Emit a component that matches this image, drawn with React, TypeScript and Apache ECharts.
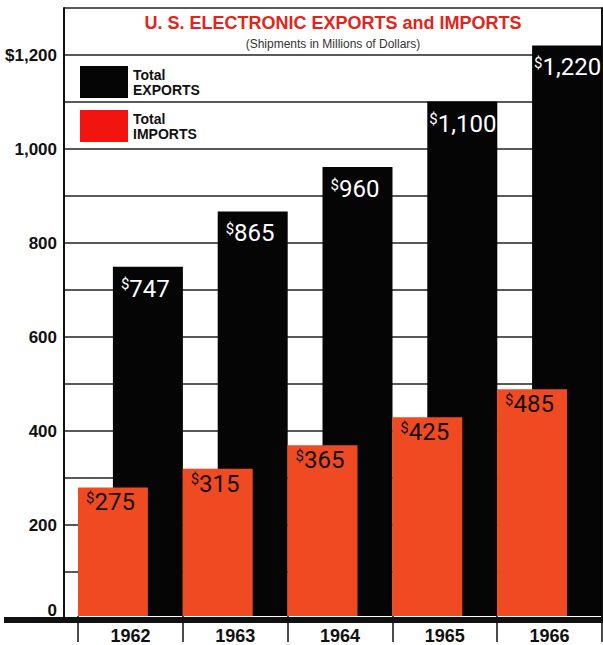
import React, { useEffect, useRef } from "react";
import * as echarts from "echarts";

const years = ["1962", "1963", "1964", "1965", "1966"];
const exportsM = [747, 865, 960, 1100, 1220];
const importsM = [275, 315, 365, 425, 485];
const yTickLabels = ["0", "200", "400", "600", "800", "1,000", "$1,200"];

const titleText = "U. S. ELECTRONIC EXPORTS and IMPORTS";
const subText = "(Shipments in Millions of Dollars)";
const exportName = "Total\nEXPORTS";
const importName = "Total\nIMPORTS";

const SANS = "'Liberation Sans', Arial, sans-serif";
const VAL = "Roboto, 'Liberation Sans', sans-serif";

const fmt = (v: number) => v.toLocaleString("en-US");

export default function App() {
  const ref = useRef<HTMLDivElement>(null);
  useEffect(() => {
    if (!ref.current) return;
    const chart = echarts.init(ref.current, undefined, { renderer: "svg" });
    const valueRich = (color: string) => ({
      d: { fontSize: 15, color, verticalAlign: "top", lineHeight: 28, fontFamily: VAL },
      v: { fontSize: 24, color, verticalAlign: "top", lineHeight: 28, fontFamily: VAL },
    });
    const labeled = (vals: number[], dy: number) =>
      vals.map((v) => ({ value: v, label: { offset: [v >= 1000 ? 2 : 8, dy] } }));
    chart.setOption({
      animation: false,
      backgroundColor: "#fff",
      title: {
        text: titleText,
        subtext: subText,
        left: 333,
        textAlign: "center",
        top: 14,
        padding: 0,
        itemGap: 6,
        textStyle: { color: "#e5231b", fontSize: 18, fontWeight: "bold", fontFamily: SANS },
        subtextStyle: { color: "#333", fontSize: 12, fontFamily: SANS },
      },
      legend: {
        orient: "vertical",
        left: 80,
        top: 66,
        padding: 0,
        itemWidth: 48,
        itemHeight: 32,
        itemGap: 12,
        icon: "rect",
        selectedMode: false,
        textStyle: { fontSize: 14, fontWeight: "bold", color: "#111", lineHeight: 15, fontFamily: SANS },
        data: [
          { name: exportName, itemStyle: { color: "#050505" } },
          { name: importName, itemStyle: { color: "#f2140f" } },
        ],
      },
      grid: [
        { left: 64, right: 1, top: 8, bottom: 26 },
        { left: 78, right: 1, top: 8, bottom: 26 },
      ],
      xAxis: [
        { gridIndex: 0, type: "value", min: 0, max: 1, show: false },
        {
          gridIndex: 1,
          type: "category",
          data: years,
          axisLine: { show: false },
          axisTick: { show: true, length: 26, lineStyle: { color: "#111", width: 1.5 } },
          axisLabel: { margin: 11, fontSize: 18, fontWeight: "bold", color: "#111", fontFamily: SANS },
        },
      ],
      yAxis: [
        {
          gridIndex: 0,
          type: "value",
          min: 0,
          max: 1300,
          interval: 100,
          axisLine: { show: true, lineStyle: { color: "#111", width: 2 } },
          axisTick: { show: false },
          splitLine: { show: true, lineStyle: { color: "#222", width: 1.5 } },
          axisLabel: {
            margin: 7,
            fontSize: 17,
            fontWeight: "bold",
            color: "#111",
            fontFamily: SANS,
            formatter: (v: number) => {
              if (v % 200 !== 0 || v / 200 >= yTickLabels.length) return "";
              const t = yTickLabels[v / 200];
              return v === 0 ? `{z|${t}}` : t;
            },
            rich: {
              z: { fontSize: 17, fontWeight: "bold", color: "#111", fontFamily: SANS, padding: [0, 0, 18, 0] },
            },
          },
        },
        {
          gridIndex: 0,
          type: "value",
          position: "right",
          min: 0,
          max: 1300,
          axisLine: { show: true, lineStyle: { color: "#111", width: 2 } },
          axisTick: { show: false },
          axisLabel: { show: false },
          splitLine: { show: false },
        },
        { gridIndex: 1, type: "value", min: 0, max: 1300, show: false },
      ],
      series: [
        {
          name: importName,
          type: "bar",
          xAxisIndex: 1,
          yAxisIndex: 2,
          data: labeled(importsM, 3),
          barWidth: 70,
          barGap: "-50%",
          z: 4,
          itemStyle: { color: "#ef4a22" },
          label: {
            show: true,
            position: "insideTopLeft",
            distance: 0,
            formatter: (p: any) => `{d|$}{v|${fmt(p.value)}}`,
            rich: valueRich("#111"),
          },
        },
        {
          name: exportName,
          type: "bar",
          xAxisIndex: 1,
          yAxisIndex: 2,
          data: labeled(exportsM, 10),
          barWidth: 70,
          barGap: "-50%",
          z: 3,
          itemStyle: { color: "#050505" },
          label: {
            show: true,
            position: "insideTopLeft",
            distance: 0,
            formatter: (p: any) => `{d|$}{v|${fmt(p.value)}}`,
            rich: valueRich("#fff"),
          },
        },
      ],
      graphic: [
        { type: "rect", x: 4, y: 617, z: 100, shape: { width: 599, height: 6 }, style: { fill: "#111" } },
      ],
    });
    return () => chart.dispose();
  }, []);
  return (
    <div
      ref={ref}
      style={{ position: "fixed", left: 0, top: 0, width: 603, height: 645, background: "#fff" }}
    />
  );
}
